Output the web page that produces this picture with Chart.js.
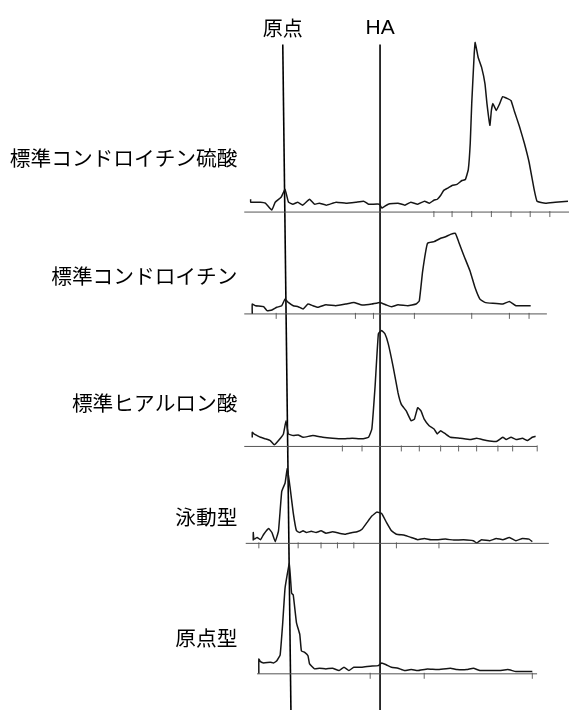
<!DOCTYPE html>
<html>
<head>
<meta charset="utf-8">
<script src="https://cdn.jsdelivr.net/npm/chart.js@4/dist/chart.umd.min.js"></script>
<style>
  html, body { margin: 0; padding: 0; background: #ffffff; }
  #wrap { position: relative; width: 574px; height: 715px; }
</style>
</head>
<body>
<div id="wrap"><canvas id="c"></canvas></div>
<script>
// ---- categories (sample rows, top to bottom) ----
const categories = ['標準コンドロイチン硫酸', '標準コンドロイチン', '標準ヒアルロン酸', '泳動型', '原点型'];
// vertical reference markers
const markerLabels = ['原点', 'HA'];
// migration distance (mm from origin) vs. absorbance (arbitrary units), one array per row
const traceCS = [[-7,13],[-7,10],[-5,10],[-4,9],[-2.7,2],[-2,10],[-0.8,15],[0,23],[0.7,10],[1.6,8],[2.6,10],[3.6,7],[5,13],[6,8],[7,9],[8.4,7],[10.4,10],[12.4,9],[14.4,10],[16,11],[17,8],[19.2,8],[19.7,4],[21,8],[23,9],[24.4,7],[25.6,10],[27,8],[28.4,11],[29.4,9],[30.3,12],[31,13],[31.7,17],[32.3,22],[33,24],[34,27],[35,28],[36,32],[36.7,33],[37.3,43],[37.7,70],[38,110],[38.5,160],[38.7,172],[39.3,157],[40,147],[40.7,130],[41.1,110],[41.7,88],[42,103],[42.3,110],[43,103],[43.7,110],[44.3,117],[45.3,115],[46,113],[46.7,102],[47.7,87],[48.7,70],[49.7,50],[50.7,23],[51.3,11],[53,9],[55,10],[57.6,11]];
const traceC = [[-6.67,0],[-6.67,10],[-6,8.3],[-4.33,7.3],[-3.67,3.3],[-2.67,4],[-1.67,6.7],[-0.67,8.3],[0,15],[0.67,11.7],[1.67,8.3],[2.67,7.3],[3.67,5],[4.67,10],[5.67,8.3],[6.67,6.7],[8.33,9.3],[10.33,8.3],[12.33,10],[14,11.7],[15.67,9],[17.67,10],[19.33,11.7],[20.67,9],[21.67,7.3],[23,9.3],[25,8.3],[26.67,10],[27.33,13.3],[28,43],[29,71.7],[30.33,73.3],[31.67,76.7],[32.67,78.3],[33.67,80.7],[34.67,81.7],[35.33,73.3],[36.33,60],[37.67,43.3],[38.67,26.7],[39.67,15],[40.67,11.7],[42.33,10.7],[44.33,10],[45.67,12.7],[47,8.3],[48.33,8.3],[50,8.3]];
const traceHA = [[-6.67,9],[-6.67,14.3],[-6.33,12.7],[-5.67,11],[-5,9.3],[-4,7.7],[-3,6],[-2.2,1.7],[-1.33,6],[-0.33,12.7],[0.2,26],[0.67,12.7],[1.67,11],[2.67,11.7],[3.67,9.3],[5.67,11],[7.67,9.3],[9.67,8.3],[11.67,7.7],[13.67,8.3],[15.67,7.7],[17,9.3],[17.67,17.7],[18.33,61],[19,114.3],[19.67,117.7],[20.33,114.3],[21,104.3],[22,81],[23,54.3],[23.67,42.7],[24.67,36],[25.67,26],[26.33,27.7],[27,39.3],[27.67,36],[28.33,27.7],[29.33,21],[30.33,17.7],[31,12.7],[31.67,16],[32.67,12.7],[33.67,9.3],[35.67,8.3],[37.67,7],[39,8.3],[41,6],[43,5],[44.33,9.3],[45,7],[46,9.3],[47,7],[48.33,8.3],[49.33,6],[50.33,9.3],[51,10.3]];
const traceMigrating = [[-6.47,3],[-6.47,11],[-6.33,4.3],[-5.67,6],[-5,3.7],[-4.33,9.3],[-3.33,15],[-2.67,11],[-2,1.7],[-1.33,12.7],[-0.67,52.7],[0,61],[0.47,76],[1,57.7],[1.67,31],[2.33,12.7],[3,11],[3.67,12.7],[4.33,11],[5.33,12.3],[6.33,11],[7.33,12.7],[8.33,10.3],[9.67,11.7],[11,10.3],[12.33,9.3],[13.67,11],[14.67,11.7],[15.67,14.3],[16.67,21],[17.67,27.7],[18.67,31.7],[19.67,30.3],[20.67,21],[21.67,12.7],[22.67,9.3],[24.33,8.3],[25.67,6],[27,3.7],[28.33,5],[29.67,3.7],[31,3.7],[32.67,4.3],[34.33,3.3],[36.33,3.7],[38.33,2.7],[39,0.3],[40,3.7],[41.67,2.7],[43,5],[44.33,3.7],[45.67,6],[47,2.7],[48.33,5],[49.67,4.3],[50.33,1.7]];
const traceOrigin = [[-5.33,0],[-5.33,15],[-5,12.3],[-4.33,11],[-3,11.7],[-2.33,11],[-1.67,13.3],[-1,19],[-0.47,51.7],[0,86.7],[0.87,111.7],[1.33,81.7],[1.67,80],[2.33,51.7],[3,40],[3.33,23.3],[4,21.7],[4.67,18.3],[5,10],[6,5],[7,5.7],[8.33,5],[9.67,5.7],[11,3.3],[12,6.7],[13,3.3],[14,6.7],[15.67,6.7],[17.33,7.7],[19,8.3],[19.67,11],[20.67,9],[21.67,6.7],[23,5.7],[24.33,3.3],[25.67,4.3],[27,3.3],[29,5],[31,4.3],[33.67,5.7],[35,4.3],[37,4.3],[38.33,5.7],[39.67,3.3],[41.67,3.3],[43.67,3.3],[45.33,4.3],[47,2.3],[49,2.3],[50.33,2.3]];
// scale tick positions on each baseline (mm)
const ticksCS = [30.3, 34, 38, 42, 46, 49.9, 53.9];
const ticksC = [-1.8, 14.33, 18, 26.33, 38, 45.67, 49.67];
const ticksHA = [0.67, 11.67, 15.67, 23.67, 27.33, 31.67, 35.33, 39, 43.33, 46.33, 51.33];
const ticksMigrating = [-5.33, 2.67, 7.33, 10.67, 14, 22.67, 31.33];
const ticksOrigin = [17.33, 28.33, 50.33];
// baseline level of each row and extent of each baseline (mm)
const baselineLevels = [505, 401.7, 267.3, 169, 36.7];
const baselineStarts = [-8.3, -8.3, -8.3, -8, -5.7];
const baselineEnds = [57.8, 53.3, 51.3, 53.7, 51.3];
const labelLevels = [560, 440, 311, 196, 73];
// marker line positions (mm) at top and bottom of the strip
const originLine = [[-0.46, 675], [1.2, 0]];
const haLine = [[19.34, 675], [19.34, 0]];

const traces = [traceCS, traceC, traceHA, traceMigrating, traceOrigin];
const tickSets = [ticksCS, ticksC, ticksHA, ticksMigrating, ticksOrigin];

const datasets = [];
traces.forEach((t, i) => {
  datasets.push({
    data: [{x: baselineStarts[i], y: baselineLevels[i]}, {x: baselineEnds[i], y: baselineLevels[i]}],
    showLine: true, borderColor: '#555', borderWidth: 1, pointRadius: 0
  });
  datasets.push({
    data: tickSets[i].map(x => ({x, y: baselineLevels[i] - 2})),
    showLine: false, pointStyle: 'line', rotation: 90, radius: 3, pointRadius: 3,
    borderColor: '#666', borderWidth: 1, backgroundColor: '#666'
  });
  datasets.push({
    data: t.map(([x, h]) => ({x, y: baselineLevels[i] + h})),
    showLine: true, borderColor: '#151515', borderWidth: 1.5, pointRadius: 0, tension: 0.1
  });
});
[originLine, haLine].forEach(l => {
  datasets.push({
    data: l.map(([x, y]) => ({x, y})),
    showLine: true, borderColor: '#000', borderWidth: 1.6, pointRadius: 0
  });
});

const textPlugin = {
  id: 'texts',
  afterDatasetsDraw(chart) {
    const {ctx, scales: {x, y}} = chart;
    ctx.save();
    ctx.fillStyle = '#000';
    ctx.textBaseline = 'middle';
    ctx.textAlign = 'right';
    ctx.font = '20.7px "Noto Sans CJK JP", "Noto Sans CJK SC", sans-serif';
    categories.forEach((c, i) => {
      ctx.fillText(c, x.getPixelForValue(-9.7), y.getPixelForValue(labelLevels[i]));
    });
    ctx.textAlign = 'center';
    ctx.font = '20px "Noto Sans CJK JP", sans-serif';
    ctx.fillText(markerLabels[0], x.getPixelForValue(originLine[0][0]), y.getPixelForValue(691));
    ctx.font = '21px "Liberation Sans", Arial, sans-serif';
    ctx.fillText(markerLabels[1], x.getPixelForValue(haLine[0][0]), y.getPixelForValue(691));
    ctx.restore();
  }
};

new Chart(document.getElementById('c'), {
  type: 'scatter',
  data: { datasets },
  options: {
    responsive: true,
    maintainAspectRatio: false,
    animation: false,
    layout: { padding: 0 },
    plugins: { legend: { display: false }, tooltip: { enabled: false } },
    scales: {
      x: { type: 'linear', min: -57, max: 57.8, display: false },
      y: { type: 'linear', min: 0, max: 715, display: false }
    }
  },
  plugins: [textPlugin]
});
</script>
</body>
</html>
